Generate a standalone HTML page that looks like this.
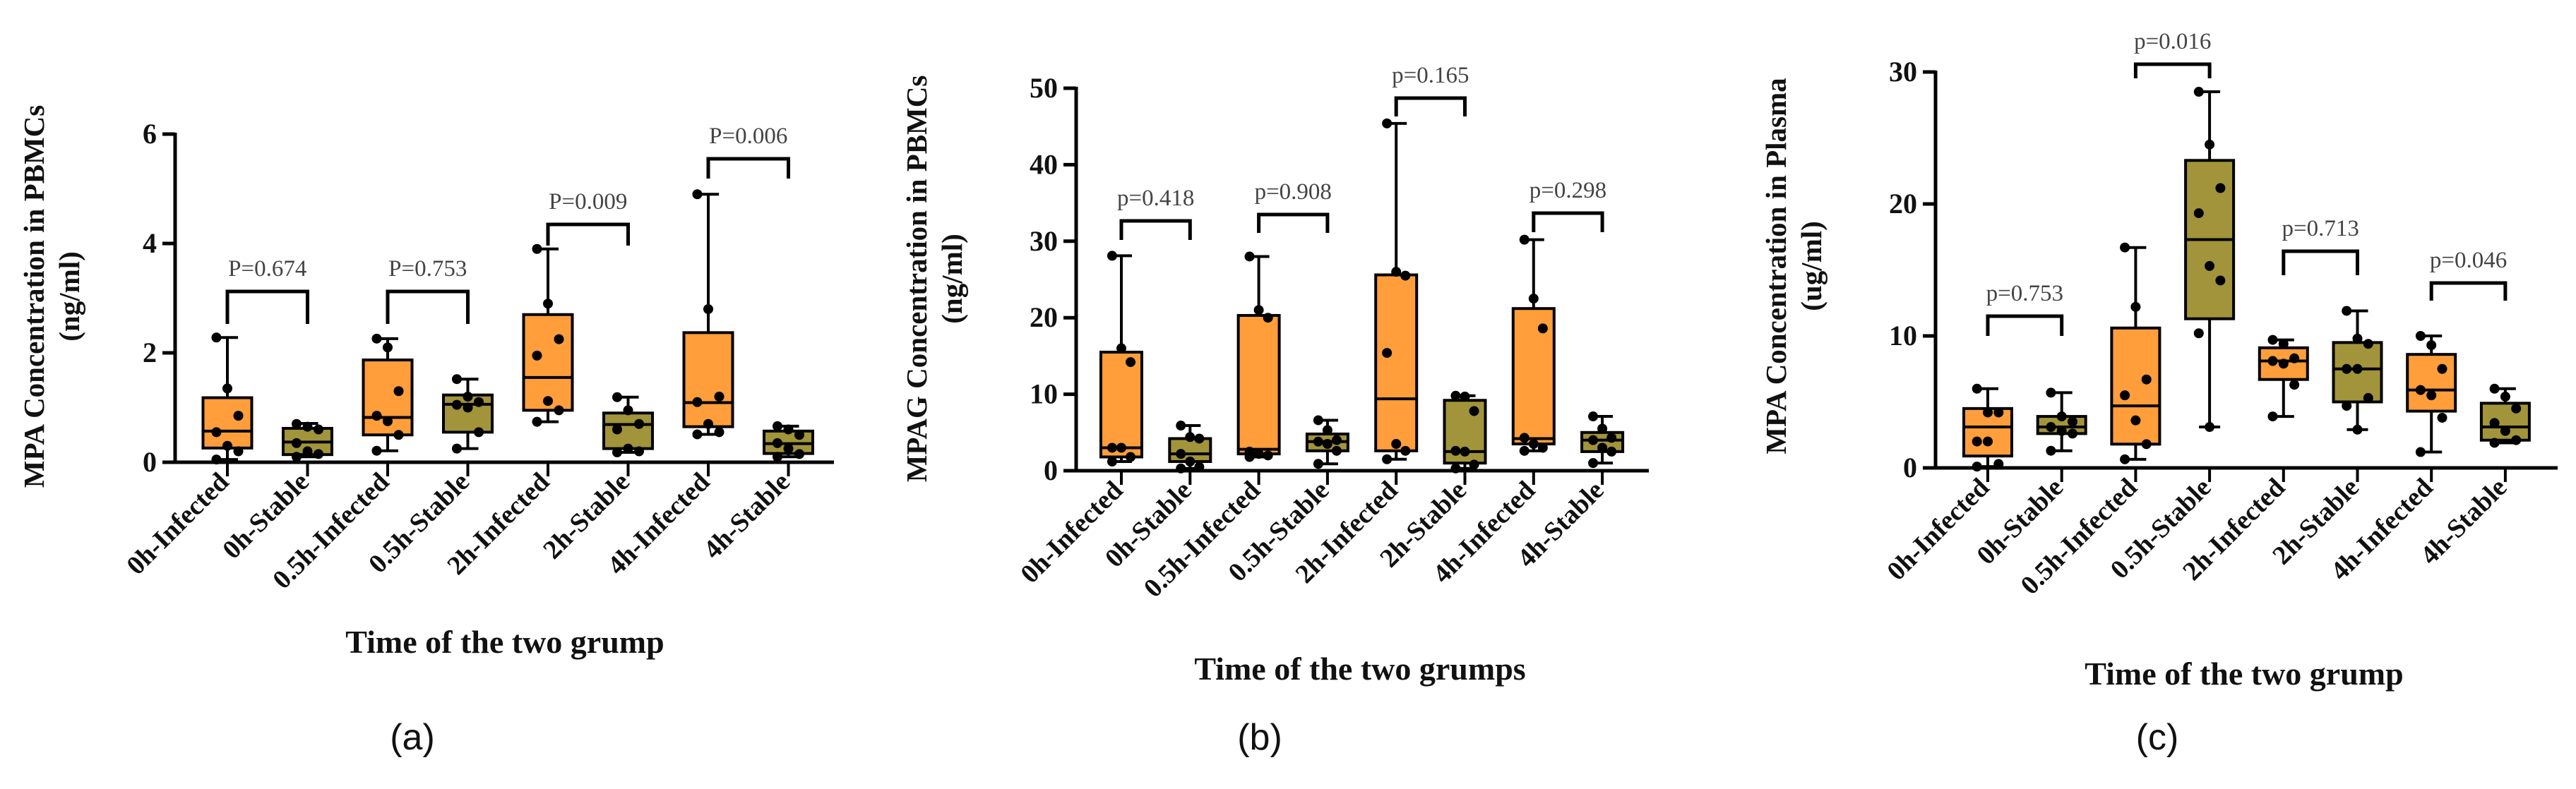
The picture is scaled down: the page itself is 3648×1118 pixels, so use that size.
<!DOCTYPE html>
<html><head><meta charset="utf-8">
<style>
html,body{margin:0;padding:0;background:#fff;}
svg{display:block;}
text{font-family:"Liberation Serif",serif;}
</style></head>
<body>
<svg id="fig" width="3648" height="1118" viewBox="0 0 3648 1118" xmlns="http://www.w3.org/2000/svg"></svg>
<script>
const categories = ["0h-Infected","0h-Stable","0.5h-Infected","0.5h-Stable","2h-Infected","2h-Stable","4h-Infected","4h-Stable"];

// Panel A: [min,q1,median,q3,max]
const aBoxes = [[0.05,0.26,0.57,1.18,2.28],[0.1,0.14,0.37,0.62,0.71],[0.21,0.5,0.82,1.87,2.26],[0.25,0.55,1.06,1.23,1.52],[0.74,0.95,1.55,2.7,3.9],[0.18,0.25,0.69,0.9,1.19],[0.51,0.65,1.09,2.37,4.9],[0.1,0.16,0.34,0.57,0.66]];
const aPoints = [[2.28,1.35,0.85,0.55,0.3,0.2,0.05],[0.7,0.65,0.6,0.35,0.2,0.15,0.1],[2.26,2.1,1.3,0.85,0.75,0.5,0.21],[1.52,1.2,1.1,1.05,1.0,0.55,0.25],[3.9,2.9,2.25,1.95,1.12,0.95,0.74],[1.19,0.95,0.7,0.6,0.25,0.2,0.18],[4.9,2.8,1.2,1.1,0.7,0.55,0.51],[0.66,0.6,0.5,0.35,0.25,0.15,0.1]];
const aTicks = [0,2,4,6];
const aPvals = ["P=0.674","P=0.753","P=0.009","P=0.006"];

// Panel B
const bBoxes = [[1.2,1.8,3.0,15.5,28.1],[0.3,1.2,2.2,4.2,5.9],[1.8,2.2,2.8,20.3,28],[0.9,2.6,3.8,4.8,6.6],[1.5,2.6,9.4,25.6,45.4],[0.3,1.0,2.5,9.2,9.8],[2.6,3.5,4.2,21.2,30.2],[1.0,2.5,4.0,5.0,7.1]];
const bPoints = [[28.1,16,14.2,3,3,1.8,1.2],[5.9,4.4,4.2,2.2,1.2,0.5,0.3],[28,21,20,2.5,2.2,2,1.8],[6.6,5.3,4,3.8,3.5,2.6,0.9],[45.4,26,25.5,15.4,3.5,2.6,1.5],[9.8,9.7,7.8,2.6,2.5,0.8,0.3],[30.2,22.5,18.6,4.3,3.5,3,2.6],[7.1,5.5,4.3,4.0,3,2.5,1.0]];
const bTicks = [0,10,20,30,40,50];
const bPvals = ["p=0.418","p=0.908","p=0.165","p=0.298"];

// Panel C
const cBoxes = [[0.1,0.9,3.1,4.5,6.0],[1.3,2.6,3.1,3.9,5.7],[0.65,1.8,4.7,10.6,16.7],[3.1,11.3,17.3,23.3,28.5],[3.9,6.7,8.1,9.1,9.7],[2.9,5.0,7.5,9.5,11.9],[1.2,4.3,5.9,8.6,10.0],[1.9,2.1,3.1,4.9,6.0]];
const cPoints = [[6,4.2,4.2,2.0,2.0,0.3,0.1],[5.7,3.9,3.5,3.1,2.8,2.6,1.3],[16.7,12.2,6.7,5.5,3.6,1.8,0.65],[28.5,24.5,21.2,19.3,15.3,14.2,10.2,3.1],[9.7,9.4,8.3,8.1,7.9,6.3,3.9],[11.9,9.8,9.4,7.5,7.5,5.3,4.7,2.9],[10,9.3,7.5,5.9,5.5,3.8,1.2],[6.0,5.4,4.5,3.4,2.8,2.1,1.9]];
const cTicks = [0,10,20,30];
const cPvals = ["p=0.753","p=0.016","p=0.713","p=0.046"];

const NS = "http://www.w3.org/2000/svg";
const svg = document.getElementById("fig");
function mk(tag, attrs, parent, txt){
  const e = document.createElementNS(NS, tag);
  for (const k in attrs) e.setAttribute(k, attrs[k]);
  if (txt !== undefined) e.textContent = txt;
  (parent||svg).appendChild(e);
  return e;
}

function panel(cfg){
  const g = mk("g", {});
  
  
  const y = v => cfg.y0 - (v / cfg.ymax) * (cfg.y0 - cfg.yTop);
  const x = i => cfg.x0c + i * cfg.step;
  const yt = mk("text", {transform:`translate(${cfg.ytx},${cfg.ytc}) rotate(-90)`, "text-anchor":"middle", "font-size":41, "font-weight":"bold", fill:"#111"}, g, cfg.ytitle);
  
  
  const yu = mk("text", {transform:`translate(${cfg.ytx+50},${cfg.ytc}) rotate(-90)`, "text-anchor":"middle", "font-size":41, "font-weight":"bold", fill:"#111"}, g, cfg.yunit);
  
  
  cfg.ticks.forEach(t => {
    const tl = mk("line", {x1:cfg.ax-18, x2:cfg.ax, y1:y(t), y2:y(t), stroke:"#000", "stroke-width":5}, g);
    
    
    const tx = mk("text", {x:cfg.ax-26, y:y(t)+13, "text-anchor":"end", "font-size":40, "font-weight":"bold", fill:"#111"}, g, String(t));
    
    
  });
  const ya = mk("line", {x1:cfg.ax, x2:cfg.ax, y1:y(cfg.ymax)-2, y2:cfg.y0+2, stroke:"#000", "stroke-width":5}, g);
  
  
  const xa = mk("line", {x1:cfg.ax-2, x2:cfg.axEnd, y1:cfg.y0, y2:cfg.y0, stroke:"#000", "stroke-width":5}, g);
  
  
  cfg.boxes.forEach((b, i) => {
    const cx = x(i), hw = cfg.bw/2;
    const fill = i % 2 === 0 ? "#FF9E3A" : "#A2943A";
    const xt = mk("line", {x1:cx, x2:cx, y1:cfg.y0, y2:cfg.y0+20, stroke:"#000", "stroke-width":4}, g);
    
    
    const wh = mk("line", {x1:cx, x2:cx, y1:y(b[4]), y2:y(b[0]), stroke:"#000", "stroke-width":4}, g);
    
    
    [b[0], b[4]].forEach(v => {
      const cap = mk("line", {x1:cx-15, x2:cx+15, y1:y(v), y2:y(v), stroke:"#000", "stroke-width":4}, g);
      
      
    });
    const r = mk("rect", {x:cx-hw, y:y(b[3]), width:cfg.bw, height:Math.max(1, y(b[1])-y(b[3])), fill:fill, stroke:"#000", "stroke-width":4}, g);
    
    
    const md = mk("line", {x1:cx-hw, x2:cx+hw, y1:y(b[2]), y2:y(b[2]), stroke:"#000", "stroke-width":4}, g);
    
    
    cfg.points[i].forEach((v, k) => {
      const off = (k % 3 - 1) * hw * 0.45;
      const p = mk("circle", {cx:cx+off, cy:y(v), r:7, fill:"#000"}, g);
      
      
    });
    const lab = mk("text", {transform:`translate(${cx+4},${cfg.y0+30}) rotate(-45)`, "text-anchor":"end", "font-size":38, "font-weight":"bold", fill:"#111"}, g, categories[i]);
    
    
  });
  cfg.pvals.forEach((pv, j) => {
    const xl = x(2*j), xr = x(2*j+1);
    const [ty, leg] = cfg.brk[j];
    const br = mk("polyline", {points:`${xl},${ty+leg} ${xl},${ty} ${xr},${ty} ${xr},${ty+leg}`, fill:"none", stroke:"#000", "stroke-width":5}, g);
    
    
    const pt = mk("text", {x:(xl+xr)/2, y:ty-22, "text-anchor":"middle", "font-size":33, fill:"#444"}, g, pv);
    
    
  });
  const xtl = mk("text", {x:cfg.xtx, y:cfg.xty, "text-anchor":"middle", "font-size":46, "font-weight":"bold", fill:"#111"}, g, cfg.xtitle);
  
  
  const pl = mk("text", {x:cfg.plx, y:1062, "text-anchor":"middle", "font-size":52, fill:"#111", style:'font-family:"Liberation Sans",sans-serif'}, g, cfg.plabel);
  
  
}

panel({name:"panel-a", ax:248, axEnd:1181, y0:655, yTop:190, ymax:6, x0c:322, step:113.5, bw:69,
  boxes:aBoxes, points:aPoints, ticks:aTicks, pvals:aPvals,
  brk:[[413,46],[413,46],[318,30],[225,28]],
  ytitle:"MPA Concentration in PBMCs", yunit:"(ng/ml)", ytx:62, ytc:420,
  xtitle:"Time of the two grump", xtx:715, xty:925, plabel:"(a)", plx:584});

panel({name:"panel-b", ax:1524, axEnd:2335, y0:667, yTop:125, ymax:50, x0c:1588, step:97.3, bw:58,
  boxes:bBoxes, points:bPoints, ticks:bTicks, pvals:bPvals,
  brk:[[313,27],[304,26],[139,26],[302,27]],
  ytitle:"MPAG Concentration in PBMCs", yunit:"(ng/ml)", ytx:1312, ytc:395,
  xtitle:"Time of the two grumps", xtx:1926, xty:963, plabel:"(b)", plx:1784});

panel({name:"panel-c", ax:2741, axEnd:3622, y0:663, yTop:102, ymax:30, x0c:2815, step:104.7, bw:68,
  boxes:cBoxes, points:cPoints, ticks:cTicks, pvals:cPvals,
  brk:[[448,28],[91,20],[356,34],[401,25]],
  ytitle:"MPA Concentration in Plasma", yunit:"(ug/ml)", ytx:2529, ytc:377,
  xtitle:"Time of the two grump", xtx:3178, xty:970, plabel:"(c)", plx:3055});
</script>
</body></html>
